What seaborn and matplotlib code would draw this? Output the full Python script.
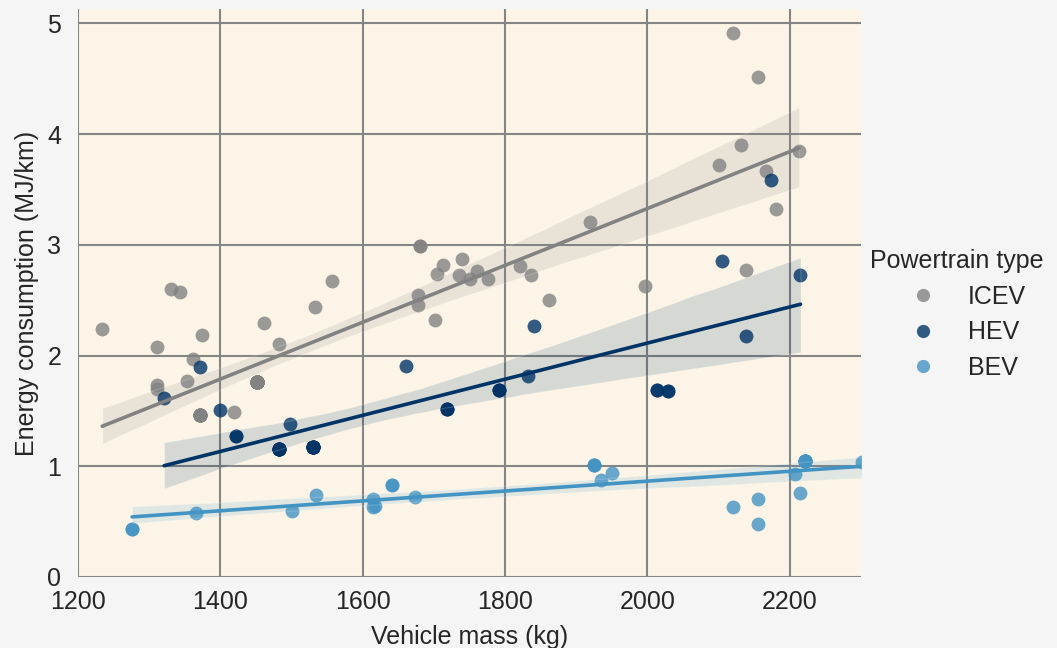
import numpy as np
import pandas as pd
import matplotlib
matplotlib.use("Agg")
import matplotlib.pyplot as plt
import seaborn as sns

# ---- data (darker dots are several overlapping vehicles) ----
icev_mass = [1234, 1311, 1330, 1343, 1362, 1374, 1311, 1311, 1353,
             1371, 1371, 1371, 1371, 1371, 1371, 1371, 1371, 1371,
             1419,
             1451, 1451, 1451, 1451, 1451, 1451, 1451, 1451, 1451, 1451, 1451, 1451, 1451,
             1451, 1451, 1451, 1451, 1451, 1451, 1451, 1451, 1451, 1451, 1451, 1451, 1451,
             1462, 1482, 1533, 1557, 1680, 1680, 1678, 1678,
             1702, 1705, 1713, 1735, 1739, 1750, 1760, 1776, 1821, 1836, 1862,
             1919, 1997, 2101, 2120, 2131, 2139, 2156, 2167, 2180, 2213]
icev_energy = [2.24, 2.08, 2.60, 2.57, 1.97, 2.19, 1.73, 1.70, 1.77,
               1.46, 1.46, 1.46, 1.46, 1.46, 1.46, 1.46, 1.46, 1.46,
               1.49,
               1.76, 1.76, 1.76, 1.76, 1.76, 1.76, 1.76, 1.76, 1.76, 1.76, 1.76, 1.76, 1.76,
               1.76, 1.76, 1.76, 1.76, 1.76, 1.76, 1.76, 1.76, 1.76, 1.76, 1.76, 1.76, 1.76,
               2.29, 2.10, 2.44, 2.67, 2.99, 2.99, 2.545, 2.46,
               2.32, 2.74, 2.82, 2.73, 2.87, 2.69, 2.76, 2.69, 2.81, 2.73, 2.50,
               3.21, 2.63, 3.72, 4.91, 3.90, 2.77, 4.515, 3.67, 3.32, 3.85]

hev_mass = [1321, 1372, 1400, 1422, 1422,
            1482, 1482, 1482, 1482, 1482, 1482, 1482, 1498,
            1530, 1530, 1530, 1530, 1530, 1530, 1530, 1530,
            1661, 1718, 1718, 1718, 1792, 1792, 1792, 1832, 1841,
            2014, 2014, 2029, 2029, 2105, 2138, 2174, 2215]
hev_energy = [1.62, 1.90, 1.51, 1.275, 1.275,
              1.155, 1.155, 1.155, 1.155, 1.155, 1.155, 1.155, 1.38,
              1.17, 1.17, 1.17, 1.17, 1.17, 1.17, 1.17, 1.17,
              1.905, 1.52, 1.52, 1.52, 1.69, 1.69, 1.69, 1.817, 2.265,
              1.69, 1.69, 1.68, 1.68, 2.85, 2.175, 3.59, 2.73]

bev_mass = [1276, 1276, 1366, 1501, 1535, 1615, 1615, 1617, 1641, 1641, 1674,
            1925, 1925, 1925, 1935, 1950, 2120, 2156, 2156, 2207, 2214,
            2222, 2222, 2222, 2222, 2222, 2222, 2222, 2301]
bev_energy = [0.43, 0.43, 0.575, 0.60, 0.74, 0.70, 0.635, 0.645, 0.83, 0.83, 0.72,
              1.01, 1.01, 1.01, 0.875, 0.935, 0.63, 0.70, 0.48, 0.93, 0.755,
              1.045, 1.045, 1.045, 1.045, 1.045, 1.045, 1.045, 1.04]

types = ["ICEV", "HEV", "BEV"]
colors = {"ICEV": "#828282", "HEV": "#003366", "BEV": "#4393c3"}

df = pd.concat([
    pd.DataFrame({"Vehicle mass (kg)": icev_mass, "Energy consumption (MJ/km)": icev_energy, "Powertrain type": "ICEV"}),
    pd.DataFrame({"Vehicle mass (kg)": hev_mass, "Energy consumption (MJ/km)": hev_energy, "Powertrain type": "HEV"}),
    pd.DataFrame({"Vehicle mass (kg)": bev_mass, "Energy consumption (MJ/km)": bev_energy, "Powertrain type": "BEV"}),
], ignore_index=True)

sns.set_theme(style="white")
plt.rcParams["font.family"] = ["Liberation Sans", "DejaVu Sans"]
plt.rcParams["text.color"] = "#262626"
plt.rcParams["axes.labelcolor"] = "#262626"
plt.rcParams["xtick.color"] = "#262626"
plt.rcParams["ytick.color"] = "#262626"

fig = plt.figure(figsize=(10.57, 6.48), dpi=100, facecolor="#f5f5f5")
ax = fig.add_axes([78 / 1057, 1 - 577 / 648, (861 - 78) / 1057, (577 - 9) / 648])
ax.set_facecolor("#fcf5e7")

handles = []
for t in types:
    sub = df[df["Powertrain type"] == t]
    sns.regplot(data=sub, x="Vehicle mass (kg)", y="Energy consumption (MJ/km)",
                ax=ax, color=colors[t], seed=0,
                scatter_kws={"s": 100, "alpha": 0.8, "linewidths": 0},
                line_kws={"lw": 2.6})
    handles.append(plt.Line2D([], [], marker="o", ls="", color=colors[t], alpha=0.8,
                              markersize=9.5, markeredgewidth=0))

ax.set_xlim(1200, 2300)
ax.set_ylim(0, 5.13)
ax.set_xticks([1200, 1400, 1600, 1800, 2000, 2200])
ax.set_yticks([0, 1, 2, 3, 4, 5])
ax.grid(True, color="#858585", lw=1.5)
ax.set_axisbelow(True)
for s in ax.spines.values():
    s.set_visible(False)
ax.tick_params(labelsize=18, length=0)
ax.tick_params(axis="x", pad=9.5)
ax.tick_params(axis="y", pad=12)
ax.set_xlabel("Vehicle mass (kg)", fontsize=18, labelpad=8)
ax.set_ylabel("Energy consumption (MJ/km)", fontsize=18, labelpad=6)

leg = fig.legend(handles, types, title="Powertrain type", loc="center left",
                 bbox_to_anchor=(0.802, 0.5146), frameon=False, fontsize=18,
                 title_fontsize=18, handlelength=2.8, handletextpad=0.4,
                 labelspacing=0.46)

fig.savefig("out.png", dpi=100, facecolor=fig.get_facecolor())
